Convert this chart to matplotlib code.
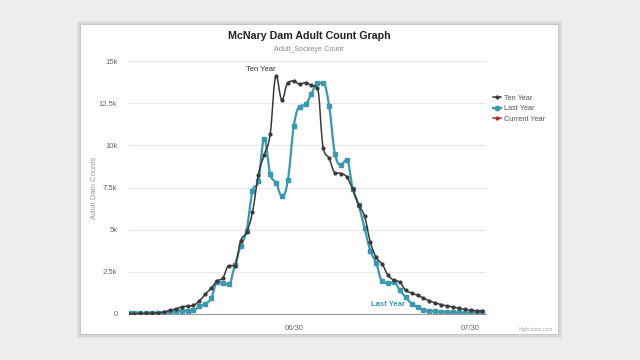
import numpy as np
import pandas as pd
import matplotlib
matplotlib.use("Agg")
import matplotlib.pyplot as plt
import matplotlib.dates as mdates
from matplotlib.patches import Rectangle, PathPatch
from matplotlib.path import Path
from matplotlib.lines import Line2D

plt.rcParams["font.family"] = ["Liberation Sans", "DejaVu Sans"]

# Daily counts, June 2 - Aug 1
dates = pd.date_range("2020-06-02", periods=61, freq="D")

ten_year = [20, 25, 30, 40, 55, 80, 130, 220, 300, 420,
            470, 520, 780, 1170, 1530, 1950, 2150, 2870, 2870, 4340,
            4850, 6020, 8250, 9450, 10650, 14100, 12700, 13720, 13820, 13620,
            13720, 13550, 13420, 9850, 9230, 8380, 8330, 8120, 7400, 6450,
            5800, 4250, 3350, 2950, 2300, 2000, 1880, 1400, 1250, 1100,
            950, 780, 660, 560, 480, 420, 340, 280, 230, 200,
            180]

last_year = [30, 30, 30, 30, 30, 40, 70, 110, 160, 200,
             200, 220, 450, 620, 920, 1880, 1820, 1760, 2880, 4050,
             4950, 7280, 7870, 10380, 8320, 7770, 7000, 7930, 11120, 12300,
             12430, 13050, 13700, 13700, 12320, 9480, 8860, 9150, 7440, 6460,
             5100, 3750, 3010, 1930, 1840, 1870, 1400, 980, 620, 400,
             260, 170, 160, 120, 110, 100, 90, 80, 100, 100,
             90]

y_ticks = [0, 2500, 5000, 7500, 10000, 12500, 15000]
y_tick_labels = ["0", "2.5k", "5k", "7.5k", "10k", "12.5k", "15k"]
x_ticks = ["2020-06-30", "2020-07-30"]

ten_color = "#3a3a3a"
last_color = "#3b98b0"
cur_color = "#a8321f"


def spline_path(xs, ys, smoothing=1.5):
    # smooth curve through the points, the way a spline series is drawn
    n = len(xs)
    denom = smoothing + 1
    left = [(xs[i], ys[i]) for i in range(n)]
    right = [(xs[i], ys[i]) for i in range(n)]
    for i in range(1, n - 1):
        px, py = xs[i], ys[i]
        lx, ly = xs[i - 1], ys[i - 1]
        nx, ny = xs[i + 1], ys[i + 1]
        lcx = (smoothing * px + lx) / denom
        lcy = (smoothing * py + ly) / denom
        rcx = (smoothing * px + nx) / denom
        rcy = (smoothing * py + ny) / denom
        corr = (rcy - lcy) * (rcx - px) / (rcx - lcx) + py - rcy
        lcy += corr
        rcy += corr
        if lcy > ly and lcy > py:
            lcy = max(ly, py)
            rcy = 2 * py - lcy
        elif lcy < ly and lcy < py:
            lcy = min(ly, py)
            rcy = 2 * py - lcy
        if rcy > ny and rcy > py:
            rcy = max(ny, py)
            lcy = 2 * py - rcy
        elif rcy < ny and rcy < py:
            rcy = min(ny, py)
            lcy = 2 * py - rcy
        left[i] = (lcx, lcy)
        right[i] = (rcx, rcy)
    verts = [(xs[0], ys[0])]
    codes = [Path.MOVETO]
    for i in range(1, n):
        verts += [right[i - 1], left[i], (xs[i], ys[i])]
        codes += [Path.CURVE4] * 3
    return Path(verts, codes)


fig = plt.figure(figsize=(6.4, 3.6), dpi=100, facecolor="#ededed")

# white card with soft shadow
W, H = 640, 360
for i, a in enumerate([0.04, 0.05, 0.07]):
    pad = 4 - i * 1.3
    fig.patches.append(Rectangle(((81 - pad) / W, 1 - (334 + pad) / H),
                                 (477 + 2 * pad) / W, (309 + 2 * pad) / H,
                                 transform=fig.transFigure, facecolor="black",
                                 alpha=a, edgecolor="none", zorder=-2))
fig.patches.append(Rectangle((81 / W, 1 - 334 / H), 477 / W, 309 / H,
                             transform=fig.transFigure, facecolor="white",
                             edgecolor="none", zorder=-1))

ax = fig.add_axes([128.6 / W, 1 - 314 / H, (486 - 128.6) / W, (314 - 61) / H])
ax.set_zorder(1)
ax.set_facecolor("none")

xnum = mdates.date2num(dates)
ax.add_patch(PathPatch(spline_path(xnum, last_year), fill=False,
                       edgecolor=last_color, lw=1.6, zorder=2))
ax.plot(dates, last_year, ls="none", color=last_color, marker="s", ms=3.3,
        zorder=2)
ax.add_patch(PathPatch(spline_path(xnum, ten_year), fill=False,
                       edgecolor=ten_color, lw=1.1, zorder=3))
ax.plot(dates, ten_year, ls="none", color=ten_color, marker="o", ms=2.0,
        zorder=3)

ax.set_ylim(0, 15000)
ax.set_xlim(dates[0], dates[0] + pd.Timedelta(days=60.6))
ax.set_yticks(y_ticks)
ax.set_yticklabels(y_tick_labels)
ax.set_xticks(pd.to_datetime(x_ticks))
ax.xaxis.set_major_formatter(mdates.DateFormatter("%m/%d"))
ax.tick_params(axis="both", length=0, labelsize=5.5, colors="#666666")
ax.tick_params(axis="x", pad=8)
ax.tick_params(axis="y", pad=8)
ax.grid(axis="y", color="#e8e8e8", lw=0.8)
ax.set_axisbelow(True)
for s in ["top", "right", "left"]:
    ax.spines[s].set_visible(False)
ax.spines["bottom"].set_color("#999999")
ax.spines["bottom"].set_linewidth(0.8)

ax.set_ylabel("Adult Dam Counts", fontsize=5.5, color="#999999")
ax.yaxis.set_label_coords(-0.085, 0.5)

# series labels
ax.text(dates[22] + pd.Timedelta(days=0.4), 14300, "Ten Year", fontsize=5.5,
        color="#333333", ha="center", va="bottom")
ax.text(dates[44], 350, "Last Year", fontsize=5.5, color=last_color,
        ha="center", va="bottom", fontweight="bold")

fig.text(309 / W, 1 - 36 / H, "McNary Dam Adult Count Graph", fontsize=7.7,
         fontweight="bold", color="#222222", ha="center", va="center")
fig.text(309 / W, 1 - 49.5 / H, "Adult_Sockeye Count", fontsize=5.2,
         color="#888888", ha="center", va="center")

handles = [Line2D([], [], color=ten_color, lw=1.1, marker="o", ms=2.0),
           Line2D([], [], color=last_color, lw=1.6, marker="o", ms=3.2),
           Line2D([], [], color=cur_color, lw=1.1, marker="o", ms=2.0)]
fig.legend(handles, ["Ten Year", "Last Year", "Current Year"],
           loc="upper left", bbox_to_anchor=(486 / W, 1 - 88 / H),
           frameon=False, fontsize=5.3, handlelength=1.1, handletextpad=0.5,
           labelspacing=0.45, labelcolor="#555555")

fig.text(553 / W, 1 - 330 / H, "Highcharts.com", fontsize=3.5, color="#aaaaaa",
         ha="right", va="center")

fig.savefig("out.png", dpi=100, facecolor=fig.get_facecolor())
